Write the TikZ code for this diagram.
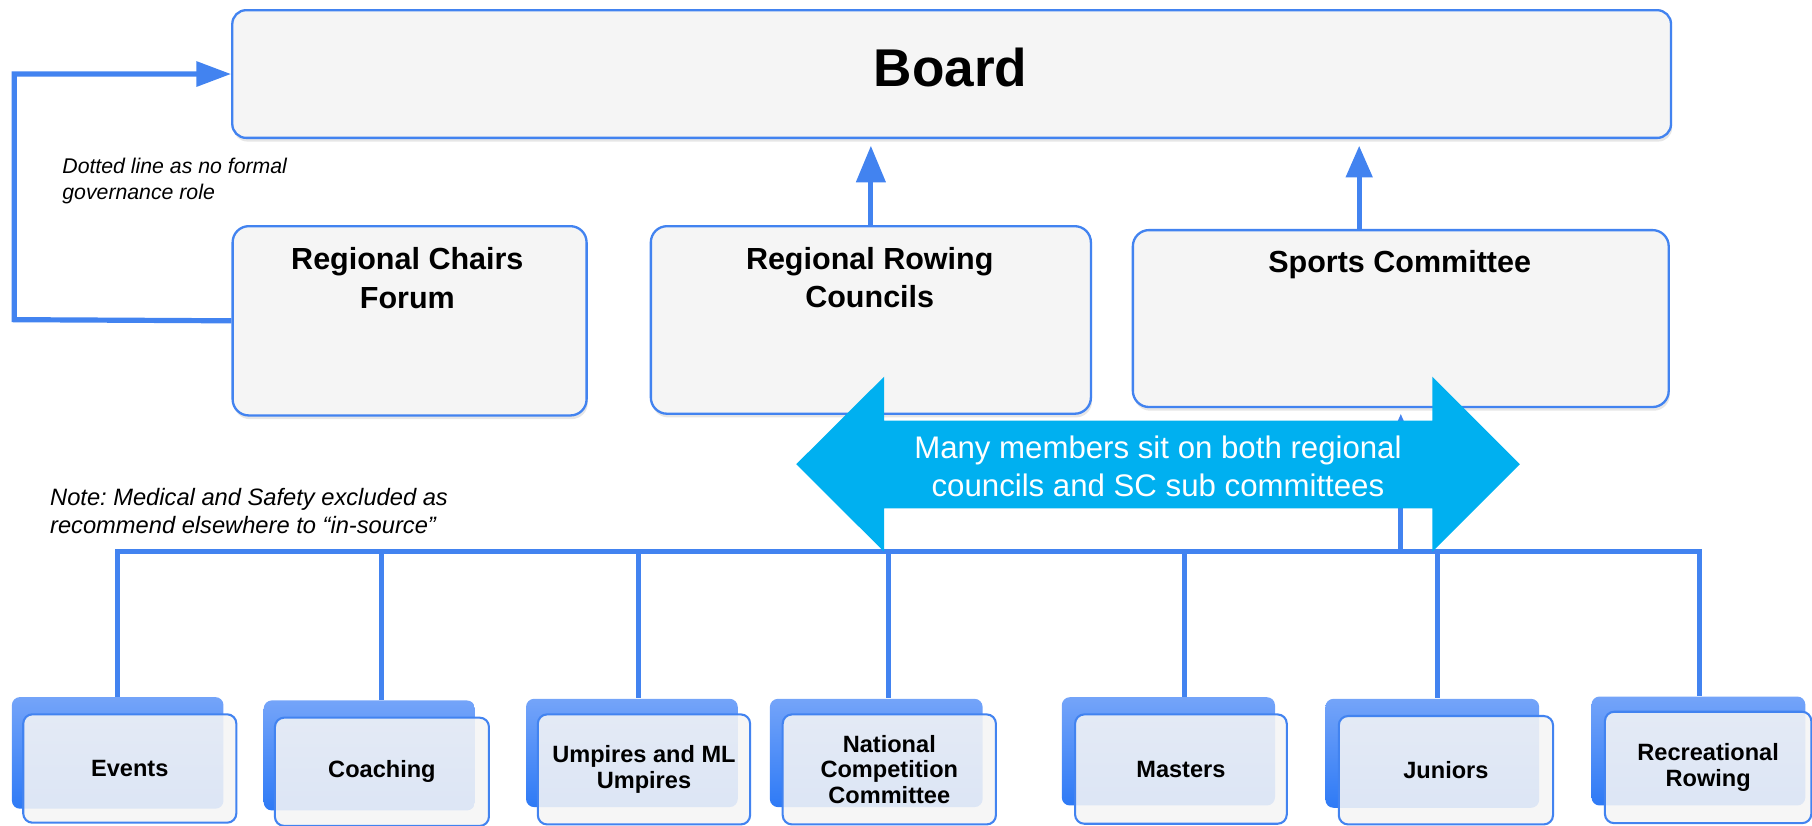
\documentclass[tikz,border=0pt]{standalone}
\usepackage{fontspec}
\setmainfont{Liberation Sans}
\usetikzlibrary{arrows.meta,shadows}
\frenchspacing
\definecolor{lineblue}{RGB}{66,131,240}
\definecolor{boxgray}{RGB}{245,245,245}
\definecolor{cyanarrow}{RGB}{0,176,240}
\definecolor{backtop}{RGB}{116,164,249}
\definecolor{backbot}{RGB}{46,122,246}
\newcommand\fBoard{\fontsize{23}{27}\selectfont\bfseries}
\newcommand\fTop{\fontsize{13.2}{16.75}\selectfont\bfseries}
\newcommand\fSub{\fontsize{10.2}{11.15}\selectfont\bfseries}
\newcommand\fShare{\fontsize{13.5}{16.25}\selectfont}
\newcommand\fNoteA{\fontsize{9.2}{11.25}\selectfont\itshape}
\newcommand\fNoteB{\fontsize{10.25}{12}\selectfont\itshape}
\begin{document}
\begin{tikzpicture}[x=0.5pt,y=-0.5pt,
  topbox/.style={draw=lineblue, line width=1pt, fill=boxgray, rounded corners=7pt,
    anchor=north west, inner sep=0pt,
    drop shadow={shadow xshift=0.5pt, shadow yshift=-1.6pt, opacity=0.2}},
  toplabel/.style={font=\fTop, align=center, inner sep=0pt, text=black},
  backbox/.style={top color=backtop, bottom color=backbot, draw=none, rounded corners=3.5pt,
    anchor=north west, inner sep=0pt},
  frontbox/.style={draw=lineblue, line width=0.9pt, fill=boxgray, fill opacity=0.88, text opacity=1,
    rounded corners=4pt, anchor=north west, inner sep=0pt, font=\fSub, align=center, text=black},
  conn/.style={draw=lineblue, line width=2.25pt},
  sharetext/.style={font=\fShare, align=center, text=white, inner sep=0pt},
  notetext/.style={align=left, inner sep=0pt, anchor=north west, text=black}
]
\useasboundingbox (0,0) rectangle (1568,714);

% ---- top level boxes
\node[topbox, rounded corners=6pt, minimum width=622.5pt, minimum height=55.25pt] (board) at (200,7.8) {};
\node[font=\fBoard, inner sep=0pt, anchor=base] (boardl) at (822.5,75) {Board};

\node[topbox, minimum width=153.15pt, minimum height=81.9pt] (rcf) at (200.3,194.7) {};
\node[toplabel, anchor=north] (rcfl) at (352.5,213.5) {Regional Chairs\\Forum};

\node[topbox, minimum width=190.4pt, minimum height=81.15pt] (rrc) at (562.2,194.7) {};
\node[toplabel, anchor=north] (rrcl) at (752.6,213.4) {Regional Rowing\\Councils};

\node[topbox, minimum width=231.85pt, minimum height=76.55pt] (sc) at (979.3,198.1) {};
\node[toplabel, anchor=base] (scl) at (1211.2,236) {Sports Committee};

% ---- connectors to the board
\coordinate (lcorner) at (12.3,276.6);
\draw[conn, -{Triangle[length=15pt,width=10.5pt]}] (rcf.west) -- (lcorner) |- (board.west);
\draw[conn, -{Triangle[length=15.8pt,width=12.4pt]}, shorten >=2.9pt] (rrc.north) -- (rrc.north |- board.south);
\draw[conn, -{Triangle[length=13.7pt,width=11.2pt]}, shorten >=2.9pt] ([xshift=-18pt]sc.north) -- ([xshift=-18pt]sc.north |- board.south);

% ---- notes
\node[notetext, font=\fNoteA] (noteA) at (53.6,136.8) {Dotted line as no formal\\governance role};
\node[notetext, font=\fNoteB] (noteB) at (43,422.2) {Note: Medical and Safety excluded as\\recommend elsewhere to “in-source”};

% ---- bottom boxes (back layers)
\node[backbox, minimum width=91.55pt, minimum height=48.3pt] (evb) at (9.9,602.8) {};
\node[backbox, minimum width=91.4pt, minimum height=47.6pt] (cob) at (227.8,605.7) {};
\node[backbox, minimum width=91.6pt, minimum height=46.85pt] (umb) at (454.8,604.3) {};
\node[backbox, minimum width=92.05pt, minimum height=46.85pt] (ncb) at (665.8,604.3) {};
\node[backbox, minimum width=92.25pt, minimum height=46.85pt] (mab) at (918.4,602.9) {};
\node[backbox, minimum width=92.5pt, minimum height=47.15pt] (jub) at (1146.5,604.3) {};
\node[backbox, minimum width=92.5pt, minimum height=47.15pt] (reb) at (1376.8,602.3) {};

% ---- bus
\coordinate (d1) at (102,477.4);
\coordinate (d2) at (330,477.4);
\coordinate (d3) at (552.8,477.4);
\coordinate (d4) at (769.1,477.4);
\coordinate (d5) at (1025.2,477.4);
\coordinate (d6) at (1243.7,477.4);
\coordinate (d7) at (1470.7,477.4);
\draw[conn] (d1 |- evb.north) -- (d1) -- (d7) -- (d7 |- reb.north);
\draw[conn] (d2) -- (d2 |- cob.north);
\draw[conn] (d3) -- (d3 |- umb.north);
\draw[conn] (d4) -- (d4 |- ncb.north);
\draw[conn] (d5) -- (d5 |- mab.north);
\draw[conn] (d6) -- (d6 |- jub.north);
\draw[conn, -{Triangle[length=13.7pt,width=11.2pt]}, shorten >=2.4pt] (sc.south |- d1) -- (sc.south);

% ---- shared membership arrow
\fill[cyanarrow] (689,401.7) -- (765,326) -- (765,364) -- (1239.5,364) -- (1239.5,326)
  -- (1315.2,401.7) -- (1239.5,477.4) -- (1239.5,440) -- (765,440) -- (765,477.4) -- cycle;
\node[sharetext, anchor=north] (share) at (1002,377.1) {Many members sit on both regional\\councils and SC sub committees};

% ---- bottom boxes (front layers)
\node[frontbox, minimum width=92.2pt, minimum height=46.9pt] (ev) at (19.2,617.2) {Events};
\node[frontbox, minimum width=92.6pt, minimum height=46.85pt] (co) at (237,620.1) {Coaching};
\node[frontbox, minimum width=91.85pt, minimum height=47.6pt] (um) at (464.5,617.3) {Umpires and ML\\Umpires};
\node[frontbox, minimum width=92.25pt, minimum height=47.6pt] (nc) at (676.4,617.3) {National\\Competition\\Committee};
\node[frontbox, minimum width=91.6pt, minimum height=47.3pt] (ma) at (929.4,617.3) {Masters};
\node[frontbox, minimum width=92.7pt, minimum height=46.9pt] (ju) at (1157.6,618.7) {Juniors};
\node[frontbox, minimum width=89.3pt, minimum height=48.2pt] (re) at (1387.9,615) {Recreational\\Rowing};
\end{tikzpicture}
\end{document}
